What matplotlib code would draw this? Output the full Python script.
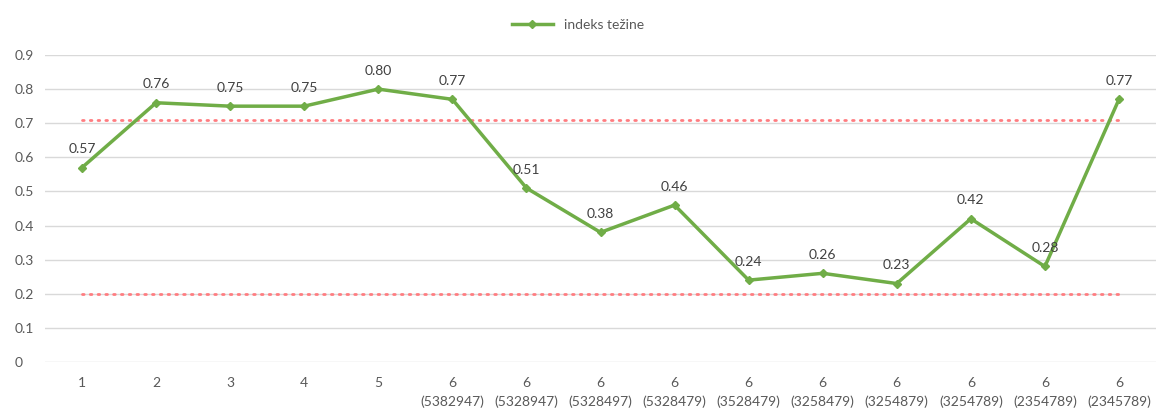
import matplotlib
matplotlib.use('Agg')
import matplotlib.pyplot as plt

categories = ['1', '2', '3', '4', '5',
              '6\n(5382947)', '6\n(5328947)', '6\n(5328497)', '6\n(5328479)',
              '6\n(3528479)', '6\n(3258479)', '6\n(3254879)', '6\n(3254789)',
              '6\n(2354789)', '6\n(2345789)']
values = [0.57, 0.76, 0.75, 0.75, 0.80, 0.77, 0.51, 0.38, 0.46,
          0.24, 0.26, 0.23, 0.42, 0.28, 0.77]
upper_limit = 0.71
lower_limit = 0.2
yticks = [0, 0.1, 0.2, 0.3, 0.4, 0.5, 0.6, 0.7, 0.8, 0.9]

plt.rcParams['font.family'] = ['Lato', 'DejaVu Sans']
text_color = '#595959'
green = '#70AD47'

fig = plt.figure(figsize=(11.56, 4.08), dpi=100)
ax = fig.add_axes([45 / 1156, 46 / 408, 1111 / 1156, 307 / 408])

x = list(range(len(values)))
ax.plot([x[0], x[-1]], [upper_limit, upper_limit], color='#FF7C80', lw=2,
        linestyle=(0, (0.6, 2.2)), dash_capstyle='round', zorder=2)
ax.plot([x[0], x[-1]], [lower_limit, lower_limit], color='#FF7C80', lw=2,
        linestyle=(0, (0.6, 2.2)), dash_capstyle='round', zorder=2)
ax.plot(x, values, color=green, lw=2.5, marker='D', markersize=4,
        label='indeks težine', zorder=3)

for xi, v in zip(x, values):
    ax.annotate(f'{v:.2f}', (xi, v), xytext=(0, 9), textcoords='offset points',
                ha='center', va='bottom', fontsize=10, color='#404040')

ax.set_xlim(-0.5, len(values) - 0.5)
ax.set_ylim(0, 0.9)
ax.set_yticks(yticks)
ax.set_yticklabels([f'{t:g}' for t in yticks])
ax.set_xticks(x)
ax.set_xticklabels(categories, linespacing=1.55)
ax.grid(axis='y', color='#D9D9D9', lw=1)
ax.set_axisbelow(True)
for s in ax.spines.values():
    s.set_visible(False)
ax.tick_params(length=0, colors=text_color, labelsize=10)
ax.tick_params(axis='x', pad=11)
ax.tick_params(axis='y', pad=22)
for lbl in ax.get_yticklabels():
    lbl.set_horizontalalignment('left')

fig.legend(loc='center', bbox_to_anchor=(0.5, 1 - 25 / 408), frameon=False,
           fontsize=10, labelcolor=text_color, handlelength=3)

fig.savefig('out.png', dpi=100)
